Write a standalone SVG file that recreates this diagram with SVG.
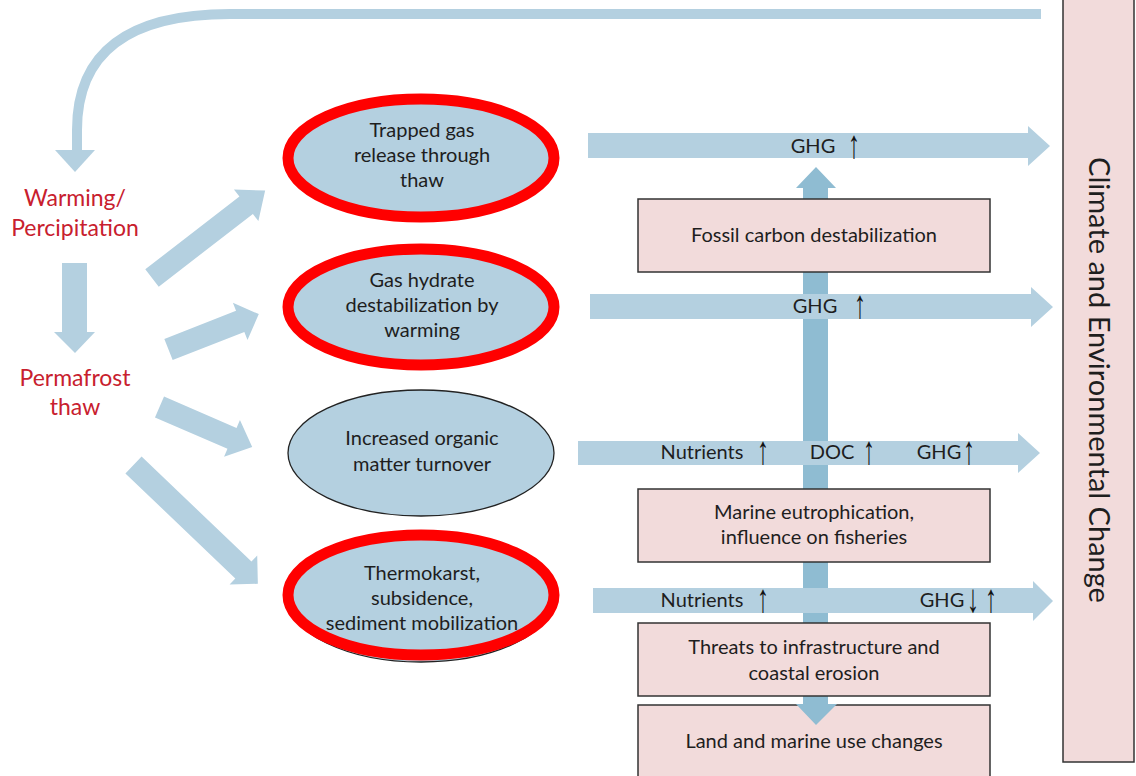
<svg xmlns="http://www.w3.org/2000/svg" width="1136" height="776" viewBox="0 0 1136 776">
<style>
.lb{fill:#b4d0e0}
.db{fill:#8fbcd2}
.pink{fill:#f2dbdb;stroke:#333;stroke-width:1.5}
.t{font-family:Lato,"Liberation Sans",sans-serif;font-size:20px;fill:#1e1e1e;text-anchor:middle}
.s{font-family:Lato,"Liberation Sans",sans-serif;font-size:20px;fill:#1e1e1e;text-anchor:middle}
.ar{font-family:"Liberation Sans",sans-serif;font-size:40px;fill:#111;text-anchor:middle}
.red{font-family:Lato,"Liberation Sans",sans-serif;font-size:23px;fill:#c8202e;text-anchor:middle}
.ell{fill:#b4d0e0;stroke:#222;stroke-width:1.3}
.ring{fill:none;stroke:#ff0000;stroke-width:11}
</style>

<g id="climate-change">
<rect class="pink" x="1063" y="-2" width="71" height="764"/>
<text class="t" style="font-size:29px" transform="translate(1100,380) rotate(90)" dominant-baseline="central">Climate and Environmental Change</text>
</g>

<g id="connectors">
<path d="M1041,14 H230 Q77,14 77,130 V152" fill="none" stroke="#b4d0e0" stroke-width="10"/>
<polygon class="lb" points="55,150 95,150 75,172"/>
<polygon class="lb" points="62,263 87,263 87,332 95,332 75,353 54,332 62,332"/>
<polygon class="lb" transform="translate(152,278) rotate(-37.7)" points="0,-11 119,-11 119,-20 143,0 119,20 119,11 0,11"/>
<polygon class="lb" transform="translate(168.5,349.5) rotate(-21.4)" points="0,-11.4 77,-11.4 77,-20 97,0 77,20 77,11.4 0,11.4"/>
<polygon class="lb" transform="translate(159.5,407) rotate(23.4)" points="0,-11.4 79,-11.4 79,-20 101,0 79,20 79,11.4 0,11.4"/>
<polygon class="lb" transform="translate(133.5,465) rotate(43.7)" points="0,-11.7 152,-11.7 152,-20 172,0 152,20 152,11.7 0,11.7"/>
</g>

<g id="land-marine-use">
<rect class="pink" x="638" y="705" width="352" height="80"/>
<text class="s" x="814" y="748">Land and marine use changes</text>
</g>

<g id="vertical-arrow">
<polygon class="db" points="803,188 796,188 816,167 836,188 828,188 828,704 837,704 816,725 796,704 803,704"/>
</g>

<g id="fossil-carbon">
<rect class="pink" x="638" y="199" width="352" height="73"/>
<text class="s" x="814" y="242">Fossil carbon destabilization</text>
</g>
<g id="marine-eutrophication">
<rect class="pink" x="638" y="489" width="352" height="73"/>
<text class="s" x="814" y="519">Marine eutrophication,</text>
<text class="s" x="814" y="544">influence on fisheries</text>
</g>
<g id="threats-infrastructure">
<rect class="pink" x="638" y="623" width="352" height="73"/>
<text class="s" x="814" y="654">Threats to infrastructure and</text>
<text class="s" x="814" y="680">coastal erosion</text>
</g>

<g id="flow-arrows">
<polygon class="lb" points="588,133 1028,133 1028,126 1050,146 1028,166 1028,158 588,158"/>
<polygon class="lb" points="590,294 1031,294 1031,287 1053,307 1031,327 1031,319 590,319"/>
<polygon class="lb" points="578,441 1018,441 1018,433 1040,453 1018,473 1018,465 578,465"/>
<polygon class="lb" points="593,588 1033,588 1033,581 1053,601 1033,621 1033,613 593,613"/>
<text class="s" x="813" y="153">GHG</text><text class="ar" transform="translate(854,158) scale(0.6,1)">↑</text>
<text class="s" x="815" y="313">GHG</text><text class="ar" transform="translate(860,318) scale(0.6,1)">↑</text>
<text class="s" x="702" y="459">Nutrients</text><text class="ar" transform="translate(763,464) scale(0.6,1)">↑</text>
<text class="s" x="832" y="459">DOC</text><text class="ar" transform="translate(869,464) scale(0.6,1)">↑</text>
<text class="s" x="939" y="459">GHG</text><text class="ar" transform="translate(969,464) scale(0.6,1)">↑</text>
<text class="s" x="702" y="607">Nutrients</text><text class="ar" transform="translate(763,612) scale(0.6,1)">↑</text>
<text class="s" x="942" y="607">GHG</text><text class="ar" transform="translate(973,612) scale(0.6,1)">↓</text><text class="ar" transform="translate(991,612) scale(0.6,1)">↑</text>
</g>

<g id="warming">
<text class="red" x="75" y="206">Warming/</text>
<text class="red" x="75" y="236">Percipitation</text>
</g>
<g id="permafrost-thaw">
<text class="red" x="75" y="386">Permafrost</text>
<text class="red" x="75" y="415">thaw</text>
</g>

<g id="trapped-gas">
<ellipse class="ell" cx="421" cy="158" rx="133" ry="62"/>
<ellipse class="ring" cx="421" cy="158" rx="133" ry="59"/>
<text class="t" x="422" y="137">Trapped gas</text>
<text class="t" x="422" y="162">release through</text>
<text class="t" x="422" y="187">thaw</text>
</g>
<g id="gas-hydrate">
<ellipse class="ell" cx="421" cy="307" rx="133" ry="62"/>
<ellipse class="ring" cx="421" cy="307" rx="133" ry="58"/>
<text class="t" x="422" y="287">Gas hydrate</text>
<text class="t" x="422" y="312">destabilization by</text>
<text class="t" x="422" y="337">warming</text>
</g>
<g id="organic-matter">
<ellipse class="ell" cx="421" cy="453" rx="133" ry="63"/>
<text class="t" x="422" y="445">Increased organic</text>
<text class="t" x="422" y="471">matter turnover</text>
</g>
<g id="thermokarst">
<ellipse class="ell" cx="421" cy="598" rx="133" ry="64"/>
<ellipse class="ring" cx="421" cy="595" rx="133" ry="60"/>
<text class="t" x="422" y="580">Thermokarst,</text>
<text class="t" x="422" y="605">subsidence,</text>
<text class="t" x="422" y="630">sediment mobilization</text>
</g>
</svg>
